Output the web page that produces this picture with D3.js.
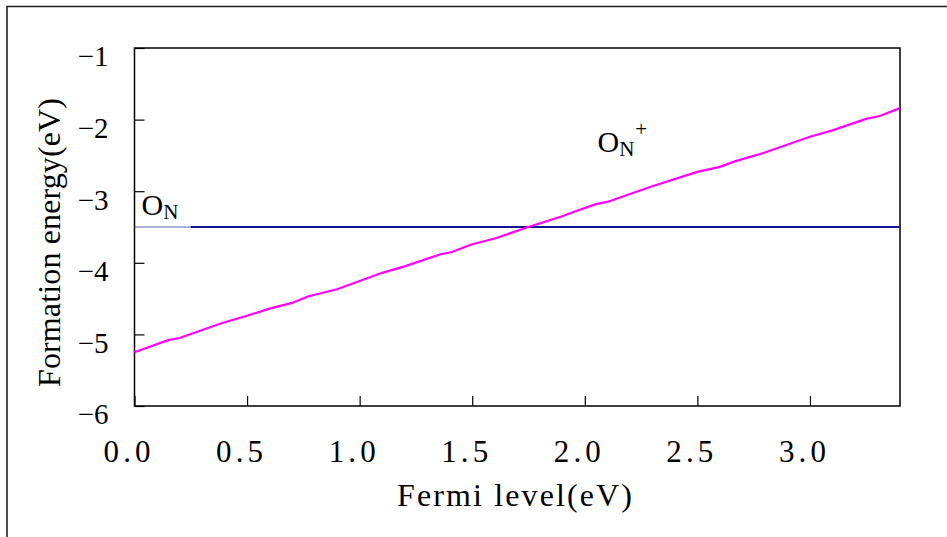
<!DOCTYPE html>
<html>
<head>
    <meta charset="utf-8">
    <title>Formation energy</title>
    <style>
        body { margin: 0; background: #fff; }
    </style>
</head>
<body>
<div id="plot"></div>
<script src="https://cdn.jsdelivr.net/npm/d3@7"></script>
<script>

    // O_N+ line
    let fermiPlus = [0, 0.15, 0.2, 0.39, 0.5, 0.6, 0.7, 0.77, 0.9, 1.1, 1.2, 1.36, 1.41, 1.5,
        1.6, 1.76, 1.9, 1.95, 2.05, 2.1, 2.3, 2.5, 2.6, 2.67, 2.8, 3.0, 3.1, 3.25, 3.31, 3.4];
    let energyPlus = [-5.25, -5.08, -5.05, -4.84, -4.74, -4.64, -4.56, -4.47, -4.37, -4.14,
        -4.05, -3.88, -3.85, -3.74, -3.66, -3.49, -3.35, -3.29, -3.18, -3.15, -2.93, -2.73,
        -2.66, -2.58, -2.46, -2.24, -2.15, -1.99, -1.95, -1.84];

    // neutral O_N line
    let fermiNeutral = [0, 0.25, 3.4];
    let energyNeutral = [-3.5, -3.5, -3.5];

    let xTicks = [0, 0.5, 1.0, 1.5, 2.0, 2.5, 3.0];
    let yTicks = [-6, -5, -4, -3, -2, -1];

    let serif = '"Liberation Serif", "Times New Roman", serif';

    function translate(x, y) {
        return 'translate(' + x + ', ' + y + ')';
    }

    let svgWidth = 947;
    let svgHeight = 537;
    let margin = {top: 48, right: 47, bottom: 131, left: 134.5};
    let width = svgWidth - margin.left - margin.right;
    let height = svgHeight - margin.top - margin.bottom;

    let root = d3.select('#plot')
        .append('svg')
        .attr('width', svgWidth)
        .attr('height', svgHeight);

    // outer frame (only top and left visible)
    root.append('path')
        .attr('d', 'M7,537 L7,6.5 L947,6.5')
        .style('fill', 'none')
        .style('stroke', '#222')
        .style('stroke-width', 1.6);

    let svg = root.append('g')
        .attr('transform', translate(margin.left, margin.top));

    let x = d3.scaleLinear().domain([0, 3.4]).range([0, width]);
    let y = d3.scaleLinear().domain([-6, -1]).range([height, 0]);

    let xAxis = d3.axisBottom(x).tickValues(xTicks).tickSizeInner(-10).tickSizeOuter(0)
        .tickFormat(d3.format('.1f'));
    let yAxis = d3.axisLeft(y).tickValues(yTicks).tickSizeInner(-10).tickSizeOuter(0)
        .tickFormat(d => '\u2212' + Math.abs(d));

    let gx = svg.append('g')
        .attr('transform', translate(0, height))
        .call(xAxis);
    gx.select('.domain').remove();
    gx.selectAll('line').style('stroke', '#000').style('stroke-width', 1.2);
    gx.selectAll('text')
        .attr('y', 45)
        .attr('dy', '0.35em')
        .attr('dx', -8)
        .attr('textLength', 47)
        .attr('lengthAdjust', 'spacing')
        .style('font-family', serif)
        .style('font-size', '31px')
        .style('fill', '#000');

    let gy = svg.append('g').call(yAxis);
    gy.select('.domain').remove();
    gy.selectAll('line').style('stroke', '#000').style('stroke-width', 1.2);
    gy.selectAll('text')
        .attr('x', -26)
        .attr('dy', '0.62em')
        .style('font-family', serif)
        .style('font-size', '29px')
        .style('fill', '#000');

    // plot box
    svg.append('rect')
        .attr('width', width)
        .attr('height', height)
        .style('fill', 'none')
        .style('stroke', '#000')
        .style('stroke-width', 1.5);

    let line = d3.line()
        .x(d => x(d[0]))
        .y(d => y(d[1]));

    let neutral = fermiNeutral.map((f, i) => [f, energyNeutral[i]]);
    svg.append('path')
        .datum(neutral.slice(0, 2))
        .attr('d', line)
        .style('fill', 'none')
        .style('stroke', '#5a64b4')
        .style('stroke-width', 1.2);
    svg.append('path')
        .datum(neutral.slice(1))
        .attr('d', line)
        .style('fill', 'none')
        .style('stroke', '#14148c')
        .style('stroke-width', 2.2);

    let plus = fermiPlus.map((f, i) => [f, energyPlus[i]]);
    svg.append('path')
        .datum(plus)
        .attr('d', line)
        .style('fill', 'none')
        .style('stroke', '#ff00ff')
        .style('stroke-width', 2.2);

    // curve labels
    let lab1 = svg.append('text')
        .attr('x', 7)
        .attr('y', 167)
        .style('font-family', serif)
        .style('font-size', '30px')
        .style('fill', '#000');
    lab1.append('tspan').text('O');
    lab1.append('tspan').attr('dy', 4).style('font-size', '21px').text('N');

    let lab2 = svg.append('text')
        .attr('x', 463)
        .attr('y', 104)
        .style('font-family', serif)
        .style('font-size', '30px')
        .style('fill', '#000');
    lab2.append('tspan').text('O');
    lab2.append('tspan').attr('dy', 4).style('font-size', '21px').text('N');
    lab2.append('tspan').attr('dy', -20).attr('dx', 1).style('font-size', '21px').text('+');

    // axis titles
    root.append('text')
        .attr('x', 397)
        .attr('y', 506)
        .attr('textLength', 235)
        .attr('lengthAdjust', 'spacing')
        .style('font-family', serif)
        .style('font-size', '32px')
        .style('fill', '#000')
        .text('Fermi level(eV)');

    root.append('text')
        .attr('transform', translate(60, 387) + ' rotate(-90)')
        .attr('textLength', 289)
        .attr('lengthAdjust', 'spacing')
        .style('font-family', serif)
        .style('font-size', '32px')
        .style('fill', '#000')
        .text('Formation energy(eV)');

</script>
</body>
</html>
